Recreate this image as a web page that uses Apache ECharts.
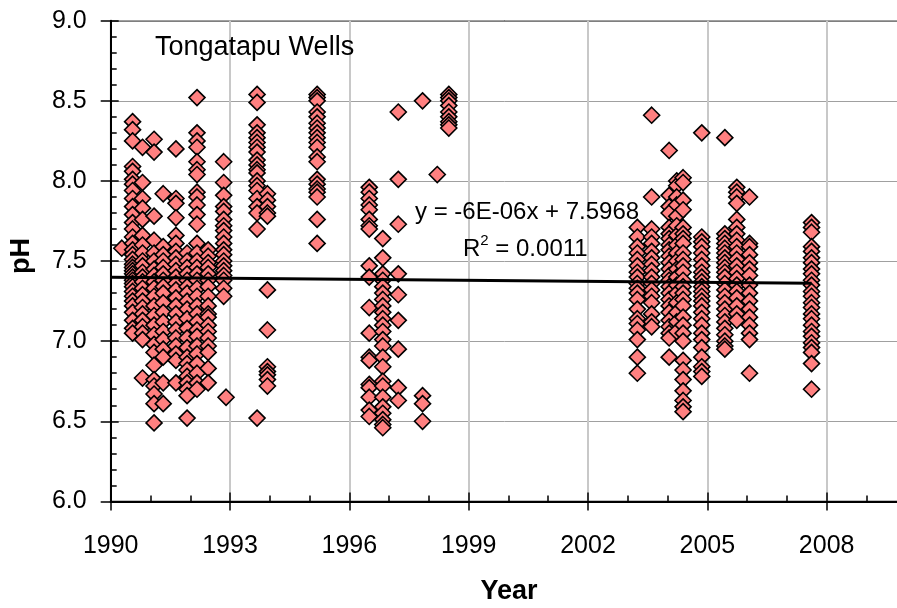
<!DOCTYPE html>
<html>
<head>
<meta charset="utf-8">
<script src="https://cdn.jsdelivr.net/npm/echarts@6/dist/echarts.min.js"></script>
<style>
  html, body { margin: 0; padding: 0; background: #fff; }
  #chart { width: 897px; height: 608px; }
</style>
</head>
<body>
<div id="chart"></div>
<script>
// Sampling campaigns (decimal year) and the pH readings taken in each one
const sampleYears = [
  1990.28, 1990.55, 1990.80, 1991.09, 1991.32, 1991.64, 1991.92, 1992.17,
  1992.45, 1992.84, 1992.90, 1993.68, 1993.94, 1995.19, 1996.50, 1996.84,
  1997.23, 1997.84, 1998.21, 1998.50, 2003.24, 2003.60, 2004.04, 2004.23,
  2004.39, 2004.86, 2005.44, 2005.74, 2006.06, 2007.62
];
const phReadings = [
  [7.58],
  [8.37, 8.32, 8.25, 8.09, 8.06, 8.01, 7.98, 7.94, 7.89, 7.84, 7.79, 7.74, 7.70, 7.65, 7.61, 7.57, 7.54, 7.51, 7.48, 7.46, 7.44, 7.42, 7.40, 7.38, 7.36, 7.34, 7.31, 7.28, 7.25, 7.22, 7.18, 7.13, 7.08, 7.05],
  [8.21, 7.99, 7.89, 7.83, 7.76, 7.66, 7.60, 7.55, 7.50, 7.47, 7.43, 7.40, 7.37, 7.33, 7.29, 7.25, 7.21, 7.17, 7.13, 7.09, 7.05, 7.01, 6.77],
  [8.26, 8.18, 7.78, 7.63, 7.55, 7.50, 7.45, 7.41, 7.37, 7.33, 7.28, 7.22, 7.16, 7.10, 7.04, 6.98, 6.93, 6.85, 6.76, 6.72, 6.67, 6.61, 6.49],
  [7.92, 7.59, 7.54, 7.50, 7.46, 7.42, 7.38, 7.34, 7.30, 7.24, 7.18, 7.12, 7.06, 7.01, 6.95, 6.90, 6.74, 6.61],
  [8.20, 7.89, 7.86, 7.77, 7.66, 7.61, 7.56, 7.52, 7.48, 7.44, 7.40, 7.36, 7.32, 7.27, 7.22, 7.17, 7.12, 7.07, 7.02, 6.97, 6.92, 6.88, 6.74],
  [7.55, 7.50, 7.46, 7.42, 7.38, 7.34, 7.30, 7.25, 7.20, 7.14, 7.08, 7.02, 6.96, 6.90, 6.86, 6.82, 6.78, 6.74, 6.70, 6.66, 6.52],
  [8.52, 8.30, 8.25, 8.21, 8.12, 8.07, 8.04, 7.93, 7.90, 7.85, 7.79, 7.73, 7.61, 7.55, 7.50, 7.46, 7.42, 7.38, 7.33, 7.28, 7.22, 7.17, 7.12, 7.07, 7.03, 6.97, 6.92, 6.86, 6.80, 6.74, 6.70],
  [7.57, 7.53, 7.49, 7.46, 7.42, 7.38, 7.34, 7.28, 7.22, 7.17, 7.15, 7.10, 7.06, 7.02, 6.97, 6.93, 6.83, 6.74],
  [8.12, 7.99, 7.91, 7.84, 7.81, 7.76, 7.72, 7.69, 7.65, 7.61, 7.57, 7.54, 7.50, 7.47, 7.44, 7.41, 7.38, 7.33, 7.28],
  [6.65],
  [8.54, 8.49, 8.35, 8.30, 8.27, 8.24, 8.21, 8.18, 8.13, 8.10, 8.07, 8.05, 8.00, 7.97, 7.94, 7.89, 7.84, 7.80, 7.70, 6.52],
  [7.92, 7.88, 7.84, 7.80, 7.78, 7.32, 7.07, 6.84, 6.81, 6.79, 6.76, 6.72],
  [8.54, 8.52, 8.50, 8.43, 8.40, 8.36, 8.33, 8.30, 8.27, 8.24, 8.21, 8.15, 8.12, 8.01, 7.98, 7.95, 7.93, 7.90, 7.76, 7.61],
  [7.96, 7.93, 7.89, 7.85, 7.82, 7.76, 7.72, 7.70, 7.47, 7.40, 7.21, 7.05, 6.90, 6.88, 6.73, 6.71, 6.65, 6.57, 6.53],
  [7.64, 7.52, 7.42, 7.38, 7.34, 7.30, 7.26, 7.22, 7.18, 7.14, 7.10, 7.06, 7.01, 6.97, 6.90, 6.84, 6.75, 6.72, 6.65, 6.59, 6.55, 6.51, 6.48, 6.46],
  [8.43, 8.01, 7.73, 7.42, 7.29, 7.13, 6.95, 6.71, 6.63],
  [8.50, 6.66, 6.61, 6.50],
  [8.04],
  [8.54, 8.52, 8.50, 8.47, 8.43, 8.40, 8.37, 8.35, 8.33],
  [7.71, 7.65, 7.59, 7.55, 7.51, 7.47, 7.43, 7.40, 7.36, 7.33, 7.30, 7.26, 7.20, 7.14, 7.11, 7.07, 7.01, 6.90, 6.80],
  [8.41, 7.90, 7.70, 7.65, 7.61, 7.56, 7.52, 7.48, 7.44, 7.40, 7.36, 7.32, 7.28, 7.24, 7.17, 7.12, 7.09],
  [8.19, 7.91, 7.84, 7.80, 7.71, 7.67, 7.64, 7.60, 7.57, 7.53, 7.49, 7.45, 7.41, 7.38, 7.34, 7.30, 7.26, 7.22, 7.18, 7.13, 7.09, 7.05, 7.02, 6.90],
  [8.00, 7.97, 7.90, 7.85, 7.78, 7.72, 7.66, 7.60, 7.55, 7.50, 7.45, 7.40, 7.35, 7.30, 7.24, 7.18, 7.12, 7.06],
  [8.02, 7.99, 7.88, 7.82, 7.71, 7.67, 7.64, 7.61, 7.55, 7.51, 7.47, 7.43, 7.38, 7.34, 7.30, 7.26, 7.22, 7.15, 7.10, 7.05, 7.00, 6.88, 6.82, 6.76, 6.69, 6.63, 6.59, 6.56],
  [8.30, 7.65, 7.62, 7.59, 7.55, 7.51, 7.47, 7.43, 7.40, 7.37, 7.34, 7.31, 7.28, 7.25, 7.22, 7.18, 7.14, 7.10, 7.05, 7.01, 6.96, 6.90, 6.84, 6.81, 6.78],
  [8.27, 7.67, 7.64, 7.61, 7.58, 7.55, 7.52, 7.49, 7.46, 7.43, 7.40, 7.36, 7.32, 7.28, 7.24, 7.20, 7.16, 7.12, 7.08, 7.04, 7.00, 6.97, 6.95],
  [7.96, 7.93, 7.90, 7.86, 7.76, 7.71, 7.67, 7.63, 7.59, 7.55, 7.51, 7.47, 7.43, 7.39, 7.35, 7.31, 7.27, 7.22, 7.17, 7.13],
  [7.90, 7.61, 7.59, 7.54, 7.49, 7.45, 7.41, 7.35, 7.30, 7.25, 7.20, 7.15, 7.10, 7.05, 7.01, 6.80],
  [7.74, 7.71, 7.68, 7.59, 7.56, 7.52, 7.49, 7.45, 7.42, 7.38, 7.35, 7.31, 7.28, 7.24, 7.21, 7.17, 7.14, 7.10, 7.06, 7.03, 6.99, 6.96, 6.93, 6.86, 6.70]
];

// Linear trend fitted against spreadsheet date serials (days)
const trendSlope = -6e-6;
const trendIntercept = 7.5968;
const trendSpan = [1990.0, 2007.62];

// Axis settings
const yearBase = 1990;
const yearTicks = ['1990', '1993', '1996', '1999', '2002', '2005', '2008'];
const phTicks = ['6.0', '6.5', '7.0', '7.5', '8.0', '8.5', '9.0'];

const FONT = '"Liberation Sans", Arial, Helvetica, sans-serif';

function yearToSerial(y) {
  // days since 1899-12-31 as used by spreadsheet dates
  return (y - 1900) * 365.25 + 1;
}

const points = [];
sampleYears.forEach(function (yr, i) {
  phReadings[i].forEach(function (ph) {
    points.push([yr - yearBase, ph]);
  });
});

const trendData = trendSpan.map(function (yr) {
  return [yr - yearBase, trendIntercept + trendSlope * yearToSerial(yr)];
});

const chart = echarts.init(document.getElementById('chart'), null, { renderer: 'canvas' });

const gridBox = { left: 110.7, top: 20.7, width: 835.3, height: 480.7 };

chart.setOption({
  animation: false,
  backgroundColor: '#ffffff',
  grid: {
    left: gridBox.left, top: gridBox.top, width: gridBox.width, height: gridBox.height,
    containLabel: false, outerBoundsMode: 'none',
    show: true, borderColor: '#000', borderWidth: 1.5, backgroundColor: 'transparent'
  },
  xAxis: [
    {
      type: 'value', min: 0, max: 21, interval: 3, position: 'bottom',
      axisLine: { show: true, onZero: false, lineStyle: { color: '#000', width: 2 } },
      axisTick: { show: true, inside: false, length: 9, lineStyle: { color: '#000', width: 1.5 } },
      axisLabel: {
        show: true, margin: 32, fontSize: 25, color: '#000', fontFamily: FONT,
        showMaxLabel: false,
        formatter: function (v) {
          const idx = Math.round(v / 3);
          return yearTicks[idx] !== undefined ? yearTicks[idx] : '';
        }
      },
      splitLine: { show: true, lineStyle: { color: '#c8c8c8', width: 2 } }
    },
    {
      type: 'value', min: 0, max: 21, interval: 3, position: 'bottom',
      axisLine: { show: false, onZero: false },
      axisTick: { show: true, inside: true, length: 9, lineStyle: { color: '#000', width: 1.5 } },
      minorTick: { show: true, splitNumber: 3, length: 6, lineStyle: { color: '#000', width: 1.5 } },
      axisLabel: { show: false },
      splitLine: { show: false }
    }
  ],
  yAxis: [
    {
      type: 'value', min: 6, max: 9, interval: 0.5, position: 'left',
      axisLine: { show: true, onZero: false, lineStyle: { color: '#000', width: 2 } },
      axisTick: { show: true, inside: false, length: 10, lineStyle: { color: '#000', width: 1.5 } },
      axisLabel: {
        show: true, margin: 24, fontSize: 25, color: '#000', fontFamily: FONT,
        formatter: function (v) {
          const idx = Math.round((v - 6) / 0.5);
          return phTicks[idx] !== undefined ? phTicks[idx] : '';
        }
      },
      splitLine: { show: true, lineStyle: { color: '#a0a0a0', width: 1 } }
    },
    {
      type: 'value', min: 6, max: 9, interval: 0.5, position: 'left',
      axisLine: { show: false, onZero: false },
      axisTick: { show: true, inside: true, length: 8, lineStyle: { color: '#000', width: 1.5 } },
      minorTick: { show: true, splitNumber: 5, length: 6, lineStyle: { color: '#000', width: 1.5 } },
      axisLabel: { show: false },
      splitLine: { show: false }
    }
  ],
  series: [
    {
      name: 'pH',
      type: 'scatter',
      xAxisIndex: 0, yAxisIndex: 0,
      symbol: 'diamond',
      symbolSize: 16,
      itemStyle: { color: '#ff8080', borderColor: '#000', borderWidth: 1.6, opacity: 1 },
      emphasis: { disabled: true },
      data: points,
      z: 3
    },
    {
      name: 'Linear trend',
      type: 'line',
      xAxisIndex: 0, yAxisIndex: 0,
      showSymbol: false, symbol: 'none',
      lineStyle: { color: '#000', width: 3 },
      data: trendData,
      z: 5
    }
  ],
  graphic: [
    {
      type: 'text', left: 155, top: 34, z: 10,
      style: { text: 'Tongatapu Wells', font: '27px ' + FONT, fill: '#000' }
    },
    {
      type: 'text', left: 415, top: 200, z: 10,
      style: { text: 'y = -6E-06x + 7.5968', font: '24px ' + FONT, fill: '#000' }
    },
    {
      type: 'text', left: 463, top: 233, z: 10,
      style: {
        text: '{a|R}{s|2}{a| = 0.0011}',
        fill: '#000',
        rich: {
          a: { fontSize: 24, fontFamily: FONT, lineHeight: 28, verticalAlign: 'bottom' },
          s: { fontSize: 15, fontFamily: FONT, lineHeight: 28, verticalAlign: 'top' }
        }
      }
    },
    {
      type: 'text', x: 22, y: 256, rotation: Math.PI / 2, z: 10,
      style: { text: 'pH', font: 'bold 27px ' + FONT, fill: '#000', align: 'center', verticalAlign: 'middle' }
    },
    {
      type: 'text', x: 509, y: 592, z: 10,
      style: { text: 'Year', font: 'bold 27px ' + FONT, fill: '#000', align: 'center', verticalAlign: 'middle' }
    }
  ]
});
</script>
</body>
</html>
